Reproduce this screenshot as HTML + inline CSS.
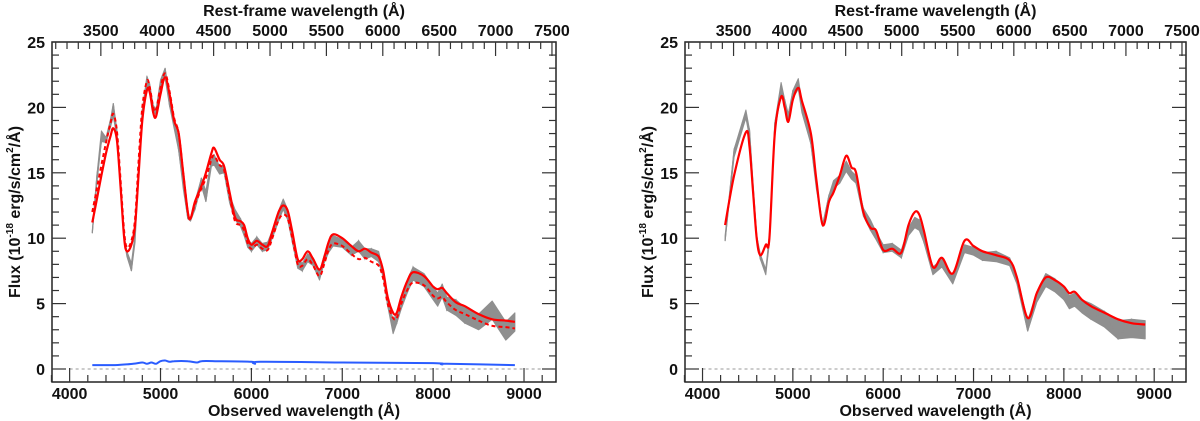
<!DOCTYPE html>
<html><head><meta charset="utf-8"><style>
html,body{margin:0;padding:0;background:#fff;}
svg{display:block;font-family:"Liberation Sans",sans-serif;font-weight:bold;}
</style></head><body>
<svg id="chart" width="1200" height="421" viewBox="0 0 1200 421" xmlns="http://www.w3.org/2000/svg"></svg>
<script>
// ---- Data (left panel) ----
const leftWave = [4250,4300,4350,4400,4450,4480,4520,4560,4600,4630,4680,4720,4760,4800,4850,4880,4920,4950,5000,5050,5100,5150,5200,5250,5300,5330,5380,5450,5500,5560,5590,5650,5700,5760,5820,5880,5920,5960,6000,6060,6120,6180,6230,6300,6350,6400,6450,6510,6560,6620,6680,6750,6800,6850,6900,7000,7100,7180,7250,7320,7400,7450,7500,7560,7600,7650,7720,7780,7900,8000,8050,8100,8150,8250,8350,8500,8650,8800,8900];
const leftModelSolid = [11.2,13,14.8,16.5,17.8,18.4,17.5,14,10,9.0,9.5,11,15,19,21.3,21.2,19.6,19.3,21,22.3,21,19,18,15,12,11.5,12.8,14,15,16.5,16.9,16,15.5,13.5,11.6,11.3,11,10,9.5,9.8,9.5,9.4,10.5,12,12.5,12.1,10.5,8.4,8.4,9.0,8.4,7.6,8.5,9.7,10.3,10,9.4,9.0,9.2,8.9,8.6,7.5,5.5,4.3,4.3,5.5,6.8,7.4,7.1,6.3,6.1,6.2,5.8,5.1,4.8,4.2,3.8,3.7,3.6];
const leftModelDashed = [12,13.8,15.6,17.3,18.8,19.5,18.2,14.5,10.5,9.3,9.8,11.5,16,20,22,21.6,20,19.8,21.5,22.6,21.2,19.2,18,15,12,11.5,12.6,13.8,14.6,16,16.3,15.6,15.2,13.2,11.3,11,10.6,9.6,9.2,9.5,9.2,9.1,10,11.4,11.8,11.5,10,8.0,7.9,8.4,7.9,7.1,8.0,9.1,9.6,9.4,8.8,8.4,8.5,8.2,7.9,6.9,5.0,3.9,3.9,5.0,6.1,6.6,6.4,5.6,5.4,5.5,5.1,4.5,4.2,3.7,3.3,3.2,3.1];
const leftObserved = [10.5,14.5,17.8,17.5,18.8,19.8,18,14,10,8.8,7.8,10,15.5,19.5,22,21.5,20,19.6,21.8,22.6,20.5,18.8,17,14,11.6,11.4,12.5,14.3,13.2,15.8,16,15.2,15.3,13,11.8,11.2,10.5,9.6,9.3,9.8,9.3,9.4,10.3,11.7,12.6,11.8,10,8,7.8,8.5,8.2,7.1,8.4,9.2,9.8,9.6,9.0,9.4,8.8,8.9,8.6,7.3,5.2,3.2,3.9,5,6.4,7.3,6.8,5.8,5.3,6.0,5,4.7,4.1,3.6,4.5,2.9,3.6];
const leftObservedNoise = [0.1,0.3,0.4,0.2,0.3,0.5,0.3,0.2,0.2,0.2,0.3,0.3,0.2,0.3,0.4,0.3,0.2,0.2,0.3,0.4,0.4,0.4,0.3,0.2,0.1,0.1,0.3,0.3,0.4,0.3,0.4,0.3,0.3,0.3,0.4,0.3,0.3,0.3,0.3,0.3,0.3,0.3,0.3,0.4,0.4,0.4,0.3,0.3,0.3,0.3,0.3,0.3,0.3,0.3,0.4,0.3,0.3,0.4,0.4,0.3,0.4,0.3,0.4,0.5,0.4,0.4,0.5,0.5,0.5,0.5,0.5,0.5,0.5,0.6,0.6,0.6,0.7,0.7,0.7];
const errWave = [4250,4500,4700,4800,4850,4900,4950,5000,5050,5100,5150,5300,5400,5450,5600,6000,6040,6100,7000,8000,8100,8150,8900];
const errFlux = [0.3,0.3,0.4,0.5,0.4,0.5,0.4,0.6,0.65,0.55,0.6,0.6,0.5,0.6,0.6,0.55,0.4,0.55,0.5,0.45,0.35,0.4,0.3];
// ---- Data (right panel) ----
const rightWave = [4250,4350,4480,4520,4560,4600,4640,4700,4740,4800,4870,4910,4950,5000,5060,5100,5200,5260,5330,5400,5450,5520,5590,5650,5700,5780,5860,5920,6000,6100,6200,6280,6350,6400,6450,6550,6650,6770,6900,7000,7100,7250,7400,7480,7600,7700,7800,7900,8000,8060,8120,8200,8300,8450,8600,8750,8900];
const rightModel = [11,14.8,18.1,17,13.5,10,8.7,9.5,10,18,20.8,20,18.9,20.6,21.5,20.5,18,14.5,11,12.8,13.5,14.8,16.3,15.4,15,12,10.8,10.6,9.1,9.2,8.9,11,12,11.8,10.6,7.8,8.5,7.3,9.8,9.4,9.0,8.7,8.3,7,3.9,5.8,7,6.8,6.3,5.8,5.9,5.3,4.8,4.3,3.8,3.5,3.4];
const rightObserved = [10,16.5,19.5,18,14,10,8.6,7.4,10,18.5,21.5,20.3,19.2,21,21.8,20,17.5,14,11,13,14.1,14.5,15.5,14.8,14.5,12,11,10.2,9.2,9.3,8.8,10.5,11.2,11,10,7.5,8.1,6.8,9.2,9,8.6,8.6,8.2,6.8,3.3,5.5,6.8,6.4,5.8,5.1,5.3,4.8,4.4,3.8,3.0,3.1,3.0];
const rightObservedNoise = [0.2,0.3,0.3,0.3,0.2,0.2,0.2,0.2,0.3,0.3,0.4,0.3,0.3,0.3,0.4,0.4,0.3,0.2,0.1,0.3,0.3,0.3,0.4,0.3,0.3,0.3,0.4,0.3,0.3,0.3,0.3,0.3,0.4,0.4,0.3,0.3,0.3,0.3,0.3,0.3,0.3,0.4,0.3,0.3,0.4,0.4,0.5,0.5,0.5,0.5,0.5,0.5,0.6,0.6,0.7,0.7,0.7];
const yTicks = [0,5,10,15,20,25];
const xTicks = [4000,5000,6000,7000,8000,9000];
const restTicks = [3500,4000,4500,5000,5500,6000,6500,7000,7500];
const redshift = 0.241;

const NS = 'http://www.w3.org/2000/svg';
const svg = document.getElementById('chart');
function mk(tag, attrs, parent){const e=document.createElementNS(NS,tag);for(const k in attrs)e.setAttribute(k,attrs[k]);(parent||svg).appendChild(e);return e;}

function smoothPath(pts){
  let d='M'+pts[0][0].toFixed(1)+','+pts[0][1].toFixed(1);
  for(let i=0;i<pts.length-1;i++){
    const p0=pts[Math.max(0,i-1)],p1=pts[i],p2=pts[i+1],p3=pts[Math.min(pts.length-1,i+2)];
    const c1=[p1[0]+(p2[0]-p0[0])/6,p1[1]+(p2[1]-p0[1])/6];
    const c2=[p2[0]-(p3[0]-p1[0])/6,p2[1]-(p3[1]-p1[1])/6];
    d+=' C'+c1[0].toFixed(1)+','+c1[1].toFixed(1)+' '+c2[0].toFixed(1)+','+c2[1].toFixed(1)+' '+p2[0].toFixed(1)+','+p2[1].toFixed(1);
  }
  return d;
}

function panel(cfg){
  const g=mk('g',{});
  
  
  const L=cfg.left,R=cfg.right,T=42,B=382;
  const xmin=3806,xmax=9352;
  const X=w=>L+(w-xmin)/(xmax-xmin)*(R-L);
  const Y=f=>369-(f/25)*(369-T);
  const zl=mk('line',{x1:X(4000),x2:R,y1:Y(0),y2:Y(0),stroke:'#999','stroke-width':1,'stroke-dasharray':'3,3'},g);
  
  
  const obsG=mk('g',{},g);
  
  
  let up=cfg.wave.map((w,i)=>[X(w),Y(cfg.obs[i]+cfg.noise[i])]);
  let dn=cfg.wave.map((w,i)=>[X(w),Y(cfg.obs[i]-cfg.noise[i])]).reverse();
  mk('polygon',{points:up.concat(dn).map(p=>p[0].toFixed(1)+','+p[1].toFixed(1)).join(' '),fill:'#8f8f8f',stroke:'#8f8f8f','stroke-width':1,'stroke-linejoin':'round'},obsG);
  let zz=[];cfg.wave.forEach((w,i)=>{zz.push([X(w),Y(cfg.obs[i]+(i%2?cfg.noise[i]:-cfg.noise[i]))]);});
  mk('polyline',{points:zz.map(p=>p[0].toFixed(1)+','+p[1].toFixed(1)).join(' '),fill:'none',stroke:'#8f8f8f','stroke-width':1.2},obsG);
  if(cfg.err){
    const e=mk('path',{d:smoothPath(cfg.errWave.map((w,i)=>[X(w),Y(cfg.err[i])])),fill:'none',stroke:'#2a5cff','stroke-width':2},g);
    
    
  }
  if(cfg.dashed){
    const d=mk('path',{d:smoothPath(cfg.wave2.map((w,i)=>[X(w),Y(cfg.dashed[i])])),fill:'none',stroke:'#ff0000','stroke-width':2,'stroke-dasharray':'4,3'},g);
    
    
  }
  const s=mk('path',{d:smoothPath(cfg.wave2.map((w,i)=>[X(w),Y(cfg.model[i])])),fill:'none',stroke:'#ff0000','stroke-width':2.2},g);
  
  
  const fr=mk('rect',{x:L,y:T,width:R-L,height:B-T,fill:'none',stroke:'#222','stroke-width':1.5},g);
  
  
  for(let v=0;v<=25;v++){
    const maj=v%5===0,len=maj?14:7;
    mk('line',{x1:L,x2:L+len,y1:Y(v),y2:Y(v),stroke:'#333','stroke-width':1.2},g);
    mk('line',{x1:R,x2:R-len,y1:Y(v),y2:Y(v),stroke:'#333','stroke-width':1.2},g);
  }
  yTicks.forEach(v=>{const t=mk('text',{x:L-7,y:Y(v)+6,'text-anchor':'end','font-size':16,fill:'#111'},g);t.textContent=v;
    
    });
  for(let w=3800;w<=9352;w+=200){
    const maj=w%1000===0,len=maj?14:7;
    mk('line',{x1:X(w),x2:X(w),y1:B,y2:B-len,stroke:'#333','stroke-width':1.2},g);
  }
  xTicks.forEach(v=>{const t=mk('text',{x:X(v),y:399,'text-anchor':'middle','font-size':16,fill:'#111'},g);t.textContent=v;
    
    });
  for(let r=3100;r<=7500;r+=100){
    const w=r*(1+redshift);if(w<xmin||w>xmax)continue;
    const maj=r%500===0,len=maj?14:7;
    mk('line',{x1:X(w),x2:X(w),y1:T,y2:T+len,stroke:'#333','stroke-width':1.2},g);
  }
  restTicks.forEach(v=>{const t=mk('text',{x:X(v*(1+redshift)),y:36,'text-anchor':'middle','font-size':16,fill:'#111'},g);t.textContent=v;
    
    });
  const xt=mk('text',{x:(L+R)/2,y:416,'text-anchor':'middle','font-size':16,fill:'#111'},g);xt.textContent='Observed wavelength (Å)';
  
  
  const tt=mk('text',{x:(L+R)/2,y:16,'text-anchor':'middle','font-size':16,fill:'#111'},g);tt.textContent='Rest-frame wavelength (Å)';
  
  
  const yt=mk('text',{x:0,y:0,'text-anchor':'middle','font-size':16,fill:'#111',transform:'translate('+(L-32)+',212) rotate(-90)'},g);
  yt.innerHTML='Flux (10<tspan dy="-7" font-size="10">-18</tspan><tspan dy="7"> erg/s/cm</tspan><tspan dy="-7" font-size="10">2</tspan><tspan dy="7">/Å)</tspan>';
  
  
}
panel({name:'left-panel',left:52,right:556,wave:leftWave,obs:leftObserved,noise:leftObservedNoise,wave2:leftWave,model:leftModelSolid,dashed:leftModelDashed,errWave:errWave,err:errFlux});
panel({name:'right-panel',left:685,right:1186,wave:rightWave,obs:rightObserved,noise:rightObservedNoise,wave2:rightWave,model:rightModel});
</script>
</body></html>
